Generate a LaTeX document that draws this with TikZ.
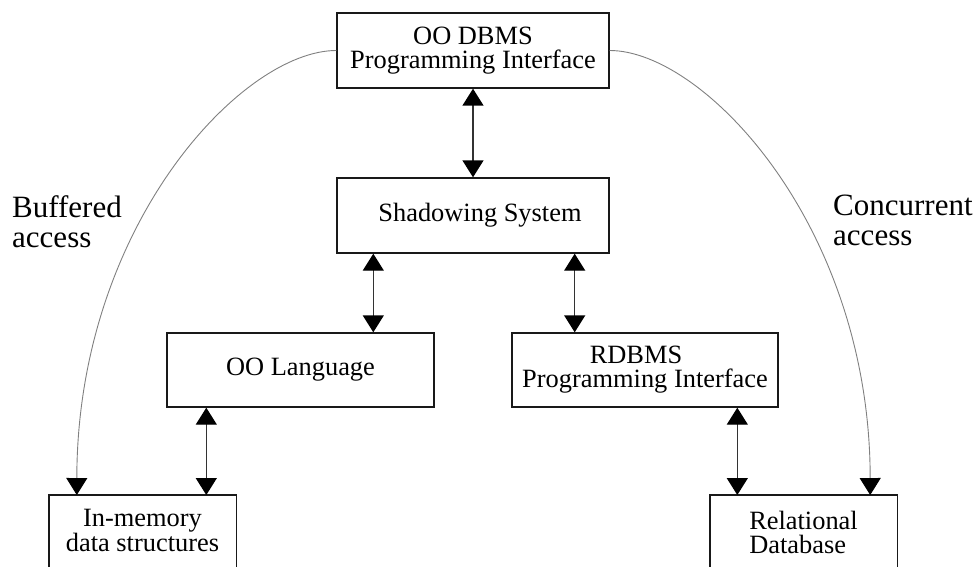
\documentclass[tikz,border=0pt]{standalone}
\usepackage{fontspec}
\setmainfont{Liberation Serif}
\usetikzlibrary{arrows.meta}
\begin{document}
\begin{tikzpicture}[x=1pt,y=-1pt,
  boxline/.style={draw=black!90, line width=1.4pt},
  boxtext/.style={inner sep=0pt, align=center, font=\fontsize{26.4}{24}\selectfont},
  box/.style={boxtext, boxline},
  link/.style={draw=black!80, line width=1.4pt, {Triangle[width=21pt,length=17pt,black]}-{Triangle[width=21pt,length=17pt,black]}},
  arcline/.style={draw=black!50, line width=0.9pt, -{Triangle[width=21pt,length=17pt,black]}},
  lbl/.style={inner sep=0pt, align=left, anchor=north west, font=\fontsize{31}{30}\selectfont}]
\useasboundingbox (0,0) rectangle (979,567);

% boxes
\node[box, minimum width=272, minimum height=75] (top) at (473,50.5) {OO DBMS\\Programming Interface};
\node[box, minimum width=272, minimum height=75] (shadow) at (473,215.5) {\hspace*{14pt}Shadowing System};
\node[box, minimum width=267, minimum height=74] (ool) at (300.5,370) {OO Language};
\node[box, minimum width=266, minimum height=74] (rdbms) at (645,370) {RDBMS\hspace*{18pt}\\Programming Interface};

% bottom boxes (run off the page)
\node[boxtext, minimum width=187, minimum height=70, anchor=north] (mem) at (142.5,495) {In-memory\\data structures};
\draw[boxline] ([yshift=-30pt]mem.south west) -- (mem.north west) -- (mem.north east) -- ([yshift=-30pt]mem.south east);
\node[boxtext, align=left, minimum width=187, minimum height=74, anchor=north] (rel) at (803.5,495) {Relational\\Database};
\draw[boxline] ([yshift=-30pt]rel.south west) -- (rel.north west) -- (rel.north east) -- ([yshift=-30pt]rel.south east);

% two-way connectors
\draw[link] (top.south) -- (shadow.north);
\draw[link] ([xshift=37pt]shadow.south west) -- ([xshift=37pt]shadow.south west |- ool.north);
\draw[link] ([xshift=-35pt]shadow.south east) -- ([xshift=-35pt]shadow.south east |- rdbms.north);
\draw[link] ([xshift=40pt]ool.south west) -- ([xshift=40pt]ool.south west |- mem.north);
\draw[link] ([xshift=226pt]rdbms.south west) -- ([xshift=226pt]rdbms.south west |- rel.north);

% access arcs
\coordinate (memin) at ([xshift=28pt]mem.north west);
\coordinate (relin) at ([xshift=-27pt]rel.north east);
\coordinate (lc1) at (242,50.5);
\coordinate (lc2) at (77,226);
\coordinate (rc1) at (704,50.5);
\coordinate (rc2) at (870,226);
\draw[arcline] (top.west) .. controls (lc1) and (lc2) .. (memin);
\draw[arcline] (top.east) .. controls (rc1) and (rc2) .. (relin);

% labels
\node[lbl] (buf) at (12,195) {Buffered\\access};
\node[lbl] (conc) at (833,194.5) {Concurrent\\access};
\end{tikzpicture}
\end{document}
